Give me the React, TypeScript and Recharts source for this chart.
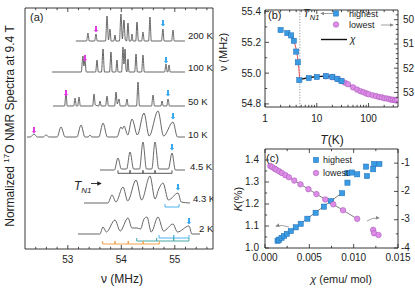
import React from "react";
import { ComposedChart, Line, Scatter, XAxis, YAxis, ReferenceLine } from "recharts";

const FONT = "'Liberation Sans', Arial, Helvetica, sans-serif";
const INK = "#222";
const TRACE = "#555";
const BLUE = "#3b9be2";
const BLUE_EDGE = "#1d6db5";
const PINK = "#dd8ce6";
const PINK_EDGE = "#a055b5";
const MAGENTA = "#e03ae0";
const CYAN = "#38a8f0";
const FIT = "#808080";

// ---------- panel (a): 17O NMR spectra, nu (MHz) vs intensity (arb.) ----------
const spectraLabels = ["200 K", "100 K", "50 K", "10 K", "4.5 K", "4.3 K", "2 K"];

const spec200K: [number, number][] = [
  [53.15, 0], [53.35, 0], [53.377, 8], [53.4, 0], [53.5, 0], [53.527, 7], [53.55, 0],
  [53.705, 0], [53.733, 25], [53.76, 1], [53.789, 12], [53.81, 0], [53.86, 0], [53.882, 6],
  [53.9, 0], [53.965, 0], [53.994, 27], [54.02, 2], [54.05, 21], [54.075, 1], [54.1, 0],
  [54.125, 18], [54.15, 0], [54.18, 0], [54.2, 7], [54.22, 0], [54.27, 0], [54.293, 19],
  [54.32, 0], [54.38, 0], [54.405, 9], [54.43, 0], [54.51, 0], [54.536, 24], [54.56, 0],
  [54.75, 0], [54.779, 12], [54.8, 0], [54.94, 0], [54.966, 11], [54.99, 0], [55.19, 0],
];
const spec100K: [number, number][] = [
  [52.705, 0], [53.25, 0], [53.284, 16], [53.3, 6], [53.321, 12], [53.345, 0], [53.52, 0],
  [53.546, 12], [53.57, 0], [53.63, 0], [53.658, 23], [53.685, 0], [53.78, 0], [53.807, 20],
  [53.83, 0], [53.895, 0], [53.919, 12], [53.94, 0], [54.005, 0], [54.032, 25], [54.05, 8],
  [54.069, 23], [54.09, 2], [54.105, 0], [54.125, 13], [54.145, 0], [54.25, 0], [54.275, 18],
  [54.3, 0], [54.38, 0], [54.405, 17], [54.43, 0], [54.81, 0], [54.835, 8], [54.86, 0],
  [54.87, 0], [54.892, 7], [54.915, 0], [55.19, 0],
];
const spec50K: [number, number][] = [
  [52.723, 0], [52.94, 0], [52.966, 13], [52.99, 0], [53.11, 0], [53.135, 8], [53.16, 0],
  [53.185, 0], [53.209, 9], [53.235, 0], [53.465, 0], [53.49, 12], [53.515, 1], [53.58, 0],
  [53.602, 5], [53.625, 0], [53.705, 0], [53.733, 10], [53.76, 0], [53.875, 0], [53.901, 14],
  [53.925, 2], [53.957, 7], [53.98, 0], [54.08, 0], [54.107, 7], [54.13, 0], [54.285, 0],
  [54.312, 24], [54.34, 0], [54.565, 0], [54.593, 11], [54.62, 0], [54.74, 0], [54.761, 5],
  [54.785, 0], [54.85, 0], [54.873, 7], [54.9, 0], [55.19, 0],
];
const spec10K: [number, number][] = [
  [52.237, 0], [52.3, 0], [52.368, 3], [52.43, 0], [52.54, 0], [52.593, 2], [52.65, 0],
  [52.8, 0], [52.873, 10], [52.95, 0], [53.17, 0], [53.247, 12], [53.32, 0], [53.38, 0],
  [53.415, 2], [53.45, 0], [53.58, 0], [53.658, 14], [53.74, 0], [53.92, 0], [53.994, 10],
  [54.02, 8], [54.05, 11], [54.12, 2], [54.2, 18], [54.3, 2], [54.424, 24], [54.52, 1],
  [54.686, 26], [54.79, 1], [54.966, 15], [55.05, 0], [55.19, 0],
];
const spec4p5K: [number, number][] = [
  [53.602, 0], [53.87, 0], [53.938, 12], [54.0, 1], [54.1, 1], [54.163, 18], [54.23, 1],
  [54.34, 1], [54.405, 28], [54.47, 1], [54.57, 1], [54.63, 28], [54.7, 1], [54.88, 1],
  [54.948, 17], [55.01, 0], [55.19, 0],
];
const spec4p3K: [number, number][] = [
  [53.303, 0], [53.75, 0], [53.826, 8], [53.9, 1], [54.032, 16], [54.12, 2], [54.275, 23],
  [54.38, 3], [54.536, 27], [54.63, 4], [54.7, 14], [54.779, 20], [54.88, 3], [55.06, 10],
  [55.12, 1], [55.284, 0],
];
const spec2K: [number, number][] = [
  [53.19, 0], [53.6, 0], [53.658, 7], [53.72, 2], [53.882, 14], [53.98, 3], [54.125, 16],
  [54.2, 6], [54.293, 6], [54.36, 5], [54.424, 15], [54.48, 17], [54.56, 2], [54.686, 17],
  [54.79, 3], [54.966, 10], [55.05, 2], [55.265, 8], [55.32, 0], [55.47, 0],
];
const spectra = [spec200K, spec100K, spec50K, spec10K, spec4p5K, spec4p3K, spec2K];
const spectraOffsets = [208, 177, 143, 112, 79, 46, 15];

// lowest (magenta) and highest (cyan) line markers: [trace index, nu, height above baseline]
const lowestMarks: [number, number, number][] = [
  [0, 53.527, 11], [1, 53.321, 13], [2, 52.966, 12], [3, 52.368, 6],
];
const highestMarks: [number, number, number][] = [
  [0, 54.779, 17], [1, 54.835, 11], [2, 54.873, 12], [3, 54.966, 20],
  [4, 54.948, 22], [5, 55.06, 15], [6, 55.265, 12],
];

// satellite combs under the low-T spectra
const combs = [
  { level: 75.7, color: "#555", nu: [53.938, 54.163, 54.405, 54.63, 54.948] },
  { level: 42, color: "#49b4ee", nu: [54.817, 55.08] },
  { level: 11, color: "#49b4ee", nu: [54.705, 54.98, 55.265] },
  { level: 8, color: "#48a9a6", nu: [54.288, 54.66, 54.98, 55.265] },
  { level: 5, color: "#f5a04a", nu: [53.652, 53.882, 54.13, 54.41, 54.71] },
];

const nuTicksA = [52.4, 52.6, 52.8, 53, 53.2, 53.4, 53.6, 53.8, 54, 54.2, 54.4, 54.6, 54.8, 55, 55.2, 55.4, 55.6];
const nuMajorsA = [53, 54, 55];

// ---------- panel (b): line positions vs T ----------
const highestT = [2, 2.7, 3.2, 3.6, 4.0, 4.3, 4.6, 7, 10, 15, 20, 25, 30];
const highestNu = [55.28, 55.26, 55.245, 55.21, 55.14, 55.07, 54.955, 54.968, 54.975, 54.98, 54.976, 54.962, 54.948];
const lowestT = [15, 20, 25, 30, 35, 40, 50, 60, 70, 80, 90, 100, 120, 140, 160, 180, 200, 225, 250, 275, 300, 325, 350];
const lowestNu = [52.33, 52.37, 52.44, 52.53, 52.6, 52.66, 52.79, 52.88, 52.95, 52.99, 53.04, 53.07, 53.12, 53.15, 53.19, 53.2, 53.24, 53.25, 53.27, 53.3, 53.3, 53.32, 53.33];
const chiT = [4.6, 5, 6, 7, 8, 10, 12, 15, 18, 20, 25, 30, 40, 50, 70, 100, 150, 200, 300, 370];
const chiNu = [54.955, 54.96, 54.966, 54.97, 54.973, 54.977, 54.979, 54.98, 54.978, 54.975, 54.963, 54.95, 54.927, 54.908, 54.882, 54.862, 54.847, 54.838, 54.827, 54.821];
const fitT = [2.5, 3, 3.5, 4, 4.3, 4.5, 4.62, 4.66];
const fitNu = [55.262, 55.245, 55.215, 55.155, 55.09, 55.03, 54.98, 54.955];
const TN1 = 4.7;

const tTicks = [1, 2, 3, 4, 5, 6, 7, 8, 9, 10, 20, 30, 40, 50, 60, 70, 80, 90, 100, 200, 300];
const tMajors = [1, 10, 100];
const nuTicksB = [54.8, 54.9, 55.0, 55.1, 55.2, 55.3, 55.4];
const nuMajorsB = [54.8, 55.0, 55.2, 55.4];
const lowTicksB = [49.8, 50, 50.2, 50.4, 50.6, 50.8, 51, 51.2, 51.4, 51.6, 51.8, 52, 52.2, 52.4, 52.6, 52.8, 53, 53.2, 53.4];
const lowMajorsB = [50, 51, 52, 53];

// ---------- panel (c): K vs chi ----------
const kHighChi = [0.00142, 0.0016, 0.00187, 0.00216, 0.00246, 0.00291, 0.00347, 0.00403, 0.00478, 0.00571, 0.00664, 0.00746, 0.0087, 0.0093, 0.0098, 0.0093, 0.0104, 0.0114, 0.0115, 0.0123, 0.0129, 0.0122];
const kHighK = [1.033, 1.038, 1.046, 1.055, 1.064, 1.077, 1.094, 1.11, 1.133, 1.16, 1.188, 1.213, 1.249, 1.34, 1.343, 1.297, 1.335, 1.37, 1.327, 1.382, 1.382, 1.358];
const kLowChi = [0.0006, 0.0008, 0.0011, 0.0013, 0.0016, 0.0019, 0.0023, 0.0027, 0.0033, 0.004, 0.0049, 0.0058, 0.0068, 0.0077, 0.0088, 0.0104, 0.0122, 0.0123, 0.0128];
const kLowK = [-1.1, -1.14, -1.195, -1.234, -1.29, -1.347, -1.424, -1.5, -1.615, -1.749, -1.92, -2.092, -2.283, -2.455, -2.665, -2.97, -3.36, -3.48, -3.54];
const fitHighChi = [0.0012, 0.0088];
const fitHighK = [1.027, 1.254];
const fitLowChi = [0.0005, 0.0105];
const fitLowK = [-1.08, -2.99];

const chiTicks = [0, 0.0025, 0.005, 0.0075, 0.01, 0.0125, 0.015];
const chiMajors = [0, 0.005, 0.01, 0.015];
const kTicks = [1.0, 1.05, 1.1, 1.15, 1.2, 1.25, 1.3, 1.35, 1.4];
const kMajors = [1.0, 1.1, 1.2, 1.3, 1.4];
const kLowTicks = [-4, -3.5, -3, -2.5, -2, -1.5, -1];
const kLowMajors = [-4, -3, -2, -1];

// ---------- helpers ----------
const W = 415;
const H = 290;
const abs: React.CSSProperties = { position: "absolute", left: 0, top: 0 };
const axisLine = { stroke: INK, strokeWidth: 0.9 };

const zip = (xs: number[], ys: number[]) => xs.map((x, i) => ({ x, y: ys[i] }));
const fmtInt = (v: number) => String(Math.round(v));
const fmt1 = (v: number) => v.toFixed(1);
const fmt3 = (v: number) => v.toFixed(3);

type Side = "bottom" | "top" | "left" | "right";
const tickMaker =
  (side: Side, majors: number[], fmt: ((v: number) => string) | null, gap = 14, dy = 3.5) =>
  (props: any) => {
    const { x, y, payload } = props;
    const v = payload.value as number;
    const big = majors.some((m) => Math.abs(m - v) < 1e-9);
    const len = big ? 4 : 2.2;
    let x2 = x;
    let y2 = y;
    if (side === "bottom") y2 = y - len;
    if (side === "top") y2 = y + len;
    if (side === "left") x2 = x + len;
    if (side === "right") x2 = x - len;
    let label = null;
    if (big && fmt) {
      if (side === "bottom")
        label = <text x={x} y={y + gap} textAnchor="middle" fontSize={10} fill={INK}>{fmt(v)}</text>;
      if (side === "left")
        label = <text x={x - gap} y={y + dy} textAnchor="end" fontSize={10} fill={INK}>{fmt(v)}</text>;
      if (side === "right")
        label = <text x={x + gap} y={y + dy} textAnchor="start" fontSize={10} fill={INK}>{fmt(v)}</text>;
    }
    return (
      <g>
        <line x1={x} y1={y} x2={x2} y2={y2} stroke={INK} strokeWidth={0.8} />
        {label}
      </g>
    );
  };

const markShape = (color: string) => (p: any) => (
  <path
    d={`M${p.cx - 1} ${p.cy - 4} h2 v4 h1.2 l-2.2 2.6 l-2.2 -2.6 h1.2 z`}
    fill={color}
  />
);
const squareShape = (p: any) => (
  <rect x={p.cx - 2.6} y={p.cy - 2.6} width={5.2} height={5.2} fill={BLUE} stroke={BLUE_EDGE} strokeWidth={0.5} />
);
const circleShape = (p: any) => (
  <circle cx={p.cx} cy={p.cy} r={2.8} fill={PINK} stroke={PINK_EDGE} strokeWidth={0.5} />
);

const combRows = (level: number, nu: number[]) => {
  const rows: { x: number; y: number }[] = [];
  nu.forEach((f, i) => {
    if (i === 0) rows.push({ x: f, y: level + 3 }, { x: f, y: level });
    else if (i === nu.length - 1) rows.push({ x: f, y: level }, { x: f, y: level + 3 });
    else rows.push({ x: f, y: level }, { x: f, y: level + 3 }, { x: f, y: level });
  });
  return rows;
};

// every axis keeps a 1px band so Recharts still draws it; margins are one pixel short to compensate
const PanelA = () => (
  <ComposedChart width={W} height={H} margin={{ top: 7, right: 201, bottom: 0, left: 24 }} style={abs}>
    <XAxis xAxisId="x" dataKey="x" type="number" domain={[52.2, 55.714]} ticks={nuTicksA} interval={0}
      allowDataOverflow height={41} tickSize={0} tickMargin={0} tickLine={false} axisLine={axisLine}
      tick={tickMaker("bottom", nuMajorsA, fmtInt, 14)} />
    <XAxis xAxisId="xt" orientation="top" dataKey="x" type="number" domain={[52.2, 55.714]} ticks={nuTicksA}
      interval={0} allowDataOverflow height={1} tickSize={0} tickMargin={0} tickLine={false} axisLine={axisLine}
      tick={tickMaker("top", nuMajorsA, null)} />
    <YAxis yAxisId="y" dataKey="y" type="number" domain={[0, 241]} allowDataOverflow width={1}
      tick={false} tickLine={false} axisLine={axisLine} />
    <YAxis yAxisId="yr" orientation="right" dataKey="y" type="number" domain={[0, 241]} allowDataOverflow
      width={1} tick={false} tickLine={false} axisLine={axisLine} />
    {combs.map((c, i) => (
      <Line key={`comb${i}`} xAxisId="x" yAxisId="y" data={combRows(c.level, c.nu)} dataKey="y"
        type="linear" stroke={c.color} strokeWidth={1} dot={false} isAnimationActive={false} />
    ))}
    {spectra.map((s, i) => (
      <Line key={`sp${i}`} xAxisId="x" yAxisId="y" data={s.map(([x, y]) => ({ x, y: y + spectraOffsets[i] }))}
        dataKey="y" type="monotone" stroke={TRACE} strokeWidth={0.9} dot={false} isAnimationActive={false} />
    ))}
    <Scatter xAxisId="x" yAxisId="y" data={lowestMarks.map(([t, x, h]) => ({ x, y: spectraOffsets[t] + h }))}
      shape={markShape(MAGENTA)} isAnimationActive={false} />
    <Scatter xAxisId="x" yAxisId="y" data={highestMarks.map(([t, x, h]) => ({ x, y: spectraOffsets[t] + h }))}
      shape={markShape(CYAN)} isAnimationActive={false} />
  </ComposedChart>
);

const PanelB = () => (
  <ComposedChart width={W} height={H} margin={{ top: 9, right: 16, bottom: 0, left: 264 }} style={abs}>
    <XAxis xAxisId="x" dataKey="x" type="number" scale="log" domain={[1, 370]} ticks={tTicks} interval={0}
      allowDataOverflow height={183} tickSize={0} tickMargin={0} tickLine={false} axisLine={axisLine}
      tick={tickMaker("bottom", tMajors, fmtInt, 15)} />
    <XAxis xAxisId="xt" orientation="top" dataKey="x" type="number" scale="log" domain={[1, 370]} ticks={tTicks}
      interval={0} allowDataOverflow height={1} tickSize={0} tickMargin={0} tickLine={false} axisLine={axisLine}
      tick={tickMaker("top", tMajors, null)} />
    <YAxis yAxisId="l" dataKey="y" type="number" domain={[54.78, 55.41]} ticks={nuTicksB} interval={0}
      allowDataOverflow width={1} tickSize={0} tickMargin={0} tickLine={false} axisLine={axisLine}
      tick={tickMaker("left", nuMajorsB, fmt1, 4)} />
    <YAxis yAxisId="r" orientation="right" dataKey="y" type="number" domain={[49.6, 53.6]} reversed
      ticks={lowTicksB} interval={0} allowDataOverflow width={1} tickSize={0} tickMargin={0} tickLine={false}
      axisLine={axisLine} tick={tickMaker("right", lowMajorsB, fmtInt, 5)} />
    <ReferenceLine xAxisId="x" yAxisId="l" x={TN1} stroke="#8a8a8a" strokeWidth={0.9} strokeDasharray="1.2 1.6" />
    <Scatter xAxisId="x" yAxisId="r" data={zip(lowestT, lowestNu)} shape={circleShape} isAnimationActive={false} />
    <Scatter xAxisId="x" yAxisId="l" data={zip(highestT, highestNu)} shape={squareShape} isAnimationActive={false} />
    <Line xAxisId="x" yAxisId="l" data={zip(chiT, chiNu)} dataKey="y" type="monotone" stroke="#111"
      strokeWidth={1.4} dot={false} isAnimationActive={false} />
    <Line xAxisId="x" yAxisId="l" data={zip(fitT, fitNu)} dataKey="y" type="monotone" stroke="#e8333a"
      strokeWidth={0.9} dot={false} isAnimationActive={false} />
  </ComposedChart>
);

const PanelC = () => (
  <ComposedChart width={W} height={H} margin={{ top: 148, right: 16, bottom: 0, left: 264 }} style={abs}>
    <XAxis xAxisId="x" dataKey="x" type="number" domain={[0, 0.015]} ticks={chiTicks} interval={0}
      allowDataOverflow height={42} tickSize={0} tickMargin={0} tickLine={false} axisLine={axisLine}
      tick={tickMaker("bottom", chiMajors, fmt3, 13)} />
    <XAxis xAxisId="xt" orientation="top" dataKey="x" type="number" domain={[0, 0.015]} ticks={chiTicks}
      interval={0} allowDataOverflow height={1} tickSize={0} tickMargin={0} tickLine={false} axisLine={axisLine}
      tick={tickMaker("top", chiMajors, null)} />
    <YAxis yAxisId="l" dataKey="y" type="number" domain={[1.0, 1.45]} ticks={kTicks} interval={0}
      allowDataOverflow width={1} tickSize={0} tickMargin={0} tickLine={false} axisLine={axisLine}
      tick={tickMaker("left", kMajors, fmt1, 6, 2.5)} />
    <YAxis yAxisId="r" orientation="right" dataKey="y" type="number" domain={[-4, -0.5]} ticks={kLowTicks}
      interval={0} allowDataOverflow width={1} tickSize={0} tickMargin={0} tickLine={false} axisLine={axisLine}
      tick={tickMaker("right", kLowMajors, fmtInt, 3, 2.5)} />
    <Line xAxisId="x" yAxisId="l" data={zip(fitHighChi, fitHighK)} dataKey="y" type="linear" stroke={FIT}
      strokeWidth={1} dot={false} isAnimationActive={false} />
    <Line xAxisId="x" yAxisId="r" data={zip(fitLowChi, fitLowK)} dataKey="y" type="linear" stroke={FIT}
      strokeWidth={1} dot={false} isAnimationActive={false} />
    <Scatter xAxisId="x" yAxisId="l" data={zip(kHighChi, kHighK)} shape={squareShape} isAnimationActive={false} />
    <Scatter xAxisId="x" yAxisId="r" data={zip(kLowChi, kLowK)} shape={circleShape} isAnimationActive={false} />
  </ComposedChart>
);

const labelPos: [number, number][] = [
  [188, 39], [188, 71], [188, 105], [188, 138], [190, 170], [193, 202], [199, 232],
];

const Overlay = () => (
  <svg width={W} height={H} style={{ ...abs, pointerEvents: "none" }} fontFamily={FONT}>
    <defs>
      <clipPath id="clipA">
        <rect x={25} y={8} width={188} height={241} />
      </clipPath>
      <marker id="ahGray" viewBox="0 0 6 6" refX="5" refY="3" markerWidth="5" markerHeight="5" orient="auto">
        <path d="M0,0 L6,3 L0,6 z" fill="#888" />
      </marker>
      <marker id="ahInk" viewBox="0 0 6 6" refX="5" refY="3" markerWidth="5" markerHeight="5" orient="auto">
        <path d="M0,0 L6,3 L0,6 z" fill={INK} />
      </marker>
    </defs>

    {/* panel (a) */}
    <text x={30} y={21} fontSize={11} fill={INK}>(a)</text>
    <text transform="translate(14,126) rotate(-90)" textAnchor="middle" fontSize={12} fill={INK}>
      Normalized <tspan fontSize={8} dy={-5}>17</tspan><tspan dy={5}>O NMR Spectra at 9.4 T</tspan>
    </text>
    <g clipPath="url(#clipA)">
      {spectraLabels.map((s, i) => (
        <text key={s} x={labelPos[i][0]} y={labelPos[i][1]} fontSize={9.5} fill={INK}>{s}</text>
      ))}
    </g>
    <text x={74} y={190} fontSize={12} fontStyle="italic" fill={INK}>
      T<tspan fontSize={8} dy={3}>N1</tspan>
    </text>
    <line x1={91} y1={183.5} x2={101} y2={183.5} stroke={INK} strokeWidth={0.9} markerEnd="url(#ahInk)" />
    <text x={122} y={283} textAnchor="middle" fontSize={12} fill={INK}>ν (MHz)</text>

    {/* panel (b) */}
    <text x={268} y={19} fontSize={11} fill={INK}>(b)</text>
    <text transform="translate(227,52) rotate(-90)" textAnchor="middle" fontSize={11} fill={INK}>ν (MHz)</text>
    <text x={332} y={144} textAnchor="middle" fontSize={12} fill={INK}>
      <tspan fontStyle="italic">T</tspan>(K)
    </text>
    <text x={303} y={17} fontSize={11} fontStyle="italic" fill={INK}>
      T<tspan fontSize={7.5} dy={2.5}>N1</tspan>
    </text>
    <line x1={333} y1={13.5} x2={321} y2={13.5} stroke="#888" strokeWidth={0.8} markerEnd="url(#ahGray)" />
    <rect x={333.4} y={10.9} width={5.2} height={5.2} fill={BLUE} stroke={BLUE_EDGE} strokeWidth={0.5} />
    <text x={349} y={17} fontSize={9} fill={INK}>highest</text>
    <circle cx={336} cy={24.5} r={2.8} fill={PINK} stroke={PINK_EDGE} strokeWidth={0.5} />
    <text x={349} y={28} fontSize={9} fill={INK}>lowest</text>
    <line x1={381} y1={25} x2={393} y2={25} stroke="#888" strokeWidth={0.8} markerEnd="url(#ahGray)" />
    <line x1={321} y1={39.5} x2={347} y2={39.5} stroke="#111" strokeWidth={1.4} />
    <text x={350} y={43} fontSize={10} fontStyle="italic" fill={INK}>χ</text>

    {/* panel (c) */}
    <text x={266} y={162} fontSize={11} fill={INK}>(c)</text>
    <rect x={313.4} y={157.4} width={5.2} height={5.2} fill={BLUE} stroke={BLUE_EDGE} strokeWidth={0.5} />
    <text x={323} y={163} fontSize={9} fill={INK}>highest</text>
    <circle cx={316} cy={173} r={2.8} fill={PINK} stroke={PINK_EDGE} strokeWidth={0.5} />
    <text x={323} y={176} fontSize={9} fill={INK}>lowest</text>
    <path d="M289 227 Q282 224.5 276 226" fill="none" stroke="#888" strokeWidth={0.8} markerEnd="url(#ahGray)" />
    <path d="M367 221 Q372 217.5 379 218" fill="none" stroke="#888" strokeWidth={0.8} markerEnd="url(#ahGray)" />
    <text transform="translate(242,199) rotate(-90)" textAnchor="middle" fontSize={11} fill={INK}>
      <tspan fontStyle="italic">K</tspan>(%)
    </text>
    <text x={341} y={283} textAnchor="middle" fontSize={11} fill={INK}>
      <tspan fontStyle="italic">χ</tspan> (emu/ mol)
    </text>
  </svg>
);

export default function App() {
  return (
    <div style={{ ...abs, width: W, height: H, background: "#fff", fontFamily: FONT }}>
      <PanelA />
      <PanelB />
      <PanelC />
      <Overlay />
    </div>
  );
}
